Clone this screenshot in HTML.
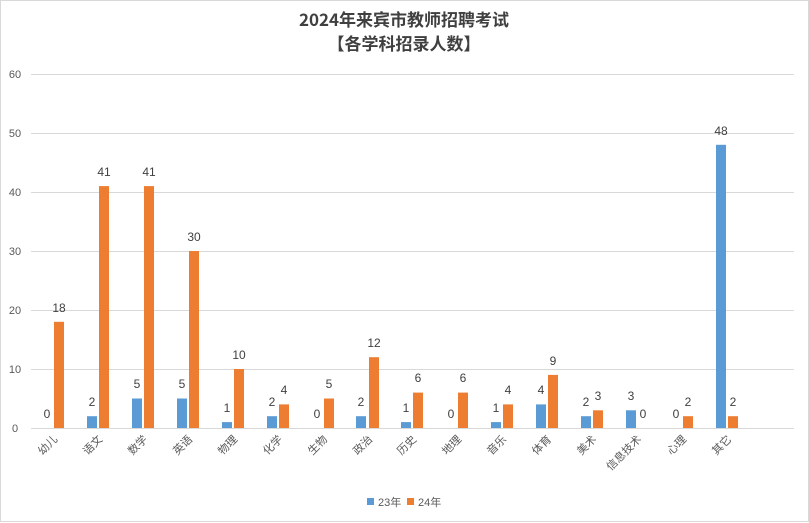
<!DOCTYPE html><html><head><meta charset="utf-8"><style>body{margin:0;background:#fff}svg{display:block}</style></head><body>
<svg width="809" height="523" xmlns="http://www.w3.org/2000/svg" font-family="'Liberation Sans','Noto Sans CJK SC',sans-serif">
<rect x="0.5" y="0.5" width="808" height="521" fill="#fff" stroke="#d9d9d9"/>
<g font-family="'Noto Sans CJK SC',sans-serif" font-weight="bold" font-size="17" fill="#404040" text-anchor="middle">
<text x="404" y="26">2024年来宾市教师招聘考试</text>
<text x="404" y="50">【各学科招录人数】</text></g>
<g stroke="#d9d9d9" stroke-width="1">
<line x1="31" x2="794" y1="74.5" y2="74.5"/><line x1="31" x2="794" y1="133.5" y2="133.5"/><line x1="31" x2="794" y1="192.5" y2="192.5"/><line x1="31" x2="794" y1="251.5" y2="251.5"/><line x1="31" x2="794" y1="310.5" y2="310.5"/><line x1="31" x2="794" y1="369.5" y2="369.5"/><line x1="31" x2="794" y1="428.5" y2="428.5"/></g>
<g font-size="11" fill="#595959" text-anchor="middle">
<text x="15" y="78">60</text><text x="15" y="137">50</text><text x="15" y="196">40</text><text x="15" y="255">30</text><text x="15" y="314">20</text><text x="15" y="373">10</text><text x="15" y="432">0</text></g>
<g fill="#5b9bd5">
<rect x="87" y="416.2" width="10" height="11.8"/><rect x="132" y="398.5" width="10" height="29.5"/><rect x="177" y="398.5" width="10" height="29.5"/><rect x="222" y="422.1" width="10" height="5.9"/><rect x="267" y="416.2" width="10" height="11.8"/><rect x="356" y="416.2" width="10" height="11.8"/><rect x="401" y="422.1" width="10" height="5.9"/><rect x="491" y="422.1" width="10" height="5.9"/><rect x="536" y="404.4" width="10" height="23.6"/><rect x="581" y="416.2" width="10" height="11.8"/><rect x="626" y="410.3" width="10" height="17.7"/><rect x="716" y="144.8" width="10" height="283.2"/></g>
<g fill="#ed7d31">
<rect x="54" y="321.8" width="10" height="106.2"/><rect x="99" y="186.1" width="10" height="241.9"/><rect x="144" y="186.1" width="10" height="241.9"/><rect x="189" y="251" width="10" height="177"/><rect x="234" y="369" width="10" height="59"/><rect x="279" y="404.4" width="10" height="23.6"/><rect x="324" y="398.5" width="10" height="29.5"/><rect x="369" y="357.2" width="10" height="70.8"/><rect x="413" y="392.6" width="10" height="35.4"/><rect x="458" y="392.6" width="10" height="35.4"/><rect x="503" y="404.4" width="10" height="23.6"/><rect x="548" y="374.9" width="10" height="53.1"/><rect x="593" y="410.3" width="10" height="17.7"/><rect x="683" y="416.2" width="10" height="11.8"/><rect x="728" y="416.2" width="10" height="11.8"/></g>
<g font-size="12" fill="#404040" text-anchor="middle">
<text x="47" y="418">0</text><text x="92" y="406">2</text><text x="137" y="388">5</text><text x="182" y="388">5</text><text x="227" y="412">1</text><text x="272" y="406">2</text><text x="317" y="418">0</text><text x="361" y="406">2</text><text x="406" y="412">1</text><text x="451" y="418">0</text><text x="496" y="412">1</text><text x="541" y="394">4</text><text x="586" y="406">2</text><text x="631" y="400">3</text><text x="676" y="418">0</text><text x="721" y="135">48</text>
<text x="59" y="312">18</text><text x="104" y="176">41</text><text x="149" y="176">41</text><text x="194" y="241">30</text><text x="239" y="359">10</text><text x="284" y="394">4</text><text x="329" y="388">5</text><text x="374" y="347">12</text><text x="418" y="382">6</text><text x="463" y="382">6</text><text x="508" y="394">4</text><text x="553" y="365">9</text><text x="598" y="400">3</text><text x="643" y="418">0</text><text x="688" y="406">2</text><text x="733" y="406">2</text></g>
<g font-size="11" fill="#595959" text-anchor="end">
<text transform="translate(58,440) rotate(-45)">幼儿</text><text transform="translate(103,440) rotate(-45)">语文</text><text transform="translate(148,440) rotate(-45)">数学</text><text transform="translate(193,440) rotate(-45)">英语</text><text transform="translate(238,440) rotate(-45)">物理</text><text transform="translate(283,440) rotate(-45)">化学</text><text transform="translate(328,440) rotate(-45)">生物</text><text transform="translate(373,440) rotate(-45)">政治</text><text transform="translate(417,440) rotate(-45)">历史</text><text transform="translate(462,440) rotate(-45)">地理</text><text transform="translate(507,440) rotate(-45)">音乐</text><text transform="translate(552,440) rotate(-45)">体育</text><text transform="translate(597,440) rotate(-45)">美术</text><text transform="translate(642,440) rotate(-45)">信息技术</text><text transform="translate(687,440) rotate(-45)">心理</text><text transform="translate(732,440) rotate(-45)">其它</text></g>
<rect x="367" y="498" width="7" height="7" fill="#5b9bd5"/><text x="378" y="506" font-size="11" fill="#595959">23年</text>
<rect x="407" y="498" width="7" height="7" fill="#ed7d31"/><text x="418" y="506" font-size="11" fill="#595959">24年</text>
</svg></body></html>
